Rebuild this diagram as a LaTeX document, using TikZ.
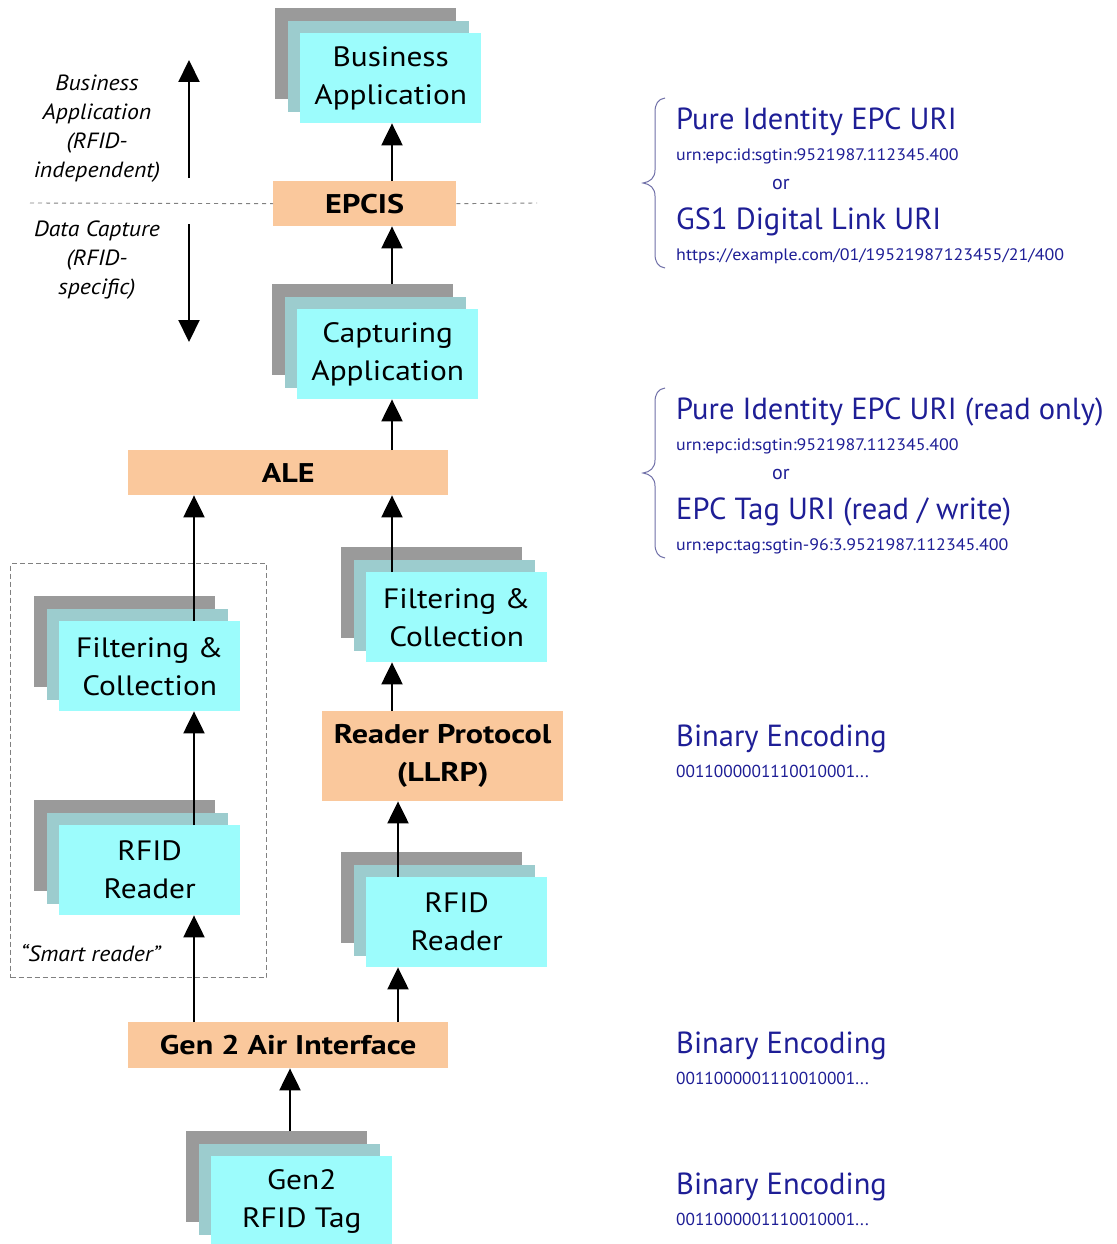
\documentclass[tikz,border=0pt]{standalone}
\usepackage{fontspec}
\setmainfont{PT Sans}
\newfontfamily\boxface{PT Sans}[FakeStretch=1.12]
\newfontfamily\bandface{PT Sans}[FakeStretch=1.19]
\newfontfamily\noteface{PT Sans}[FakeStretch=1.08]
\newfontfamily\smallface{PT Sans}[FakeStretch=1.08]
\usetikzlibrary{arrows.meta,calc}

\definecolor{tagcyan}{HTML}{9CFCFC}
\definecolor{tagmid}{HTML}{9CCCCE}
\definecolor{taggray}{HTML}{9A9A9A}
\definecolor{bandorange}{HTML}{FAC89C}
\definecolor{uriblue}{HTML}{1E1E96}
\definecolor{bracecol}{HTML}{7070A8}
\definecolor{dashgray}{HTML}{808080}

\newcommand\layerfont{\boxface\fontsize{28}{38}\selectfont}
\newcommand\bandfont{\bandface\fontsize{27}{38}\selectfont\bfseries}
\newcommand\notefont{\noteface\fontsize{22}{29}\selectfont\itshape}
\newcommand\urifont{\fontsize{30.5}{32}\selectfont}
\newcommand\smallurifont{\smallface\fontsize{16.6}{18}\selectfont}
\newcommand\bitsfont{\fontsize{17.3}{18}\selectfont}

\tikzset{
  layerback/.style={fill=taggray, minimum width=181pt, minimum height=91pt,
    anchor=north west, inner sep=0pt},
  layermid/.style={fill=tagmid, minimum width=181pt, minimum height=91pt,
    anchor=north west, inner sep=0pt},
  layerfront/.style={fill=tagcyan, minimum width=181pt, minimum height=90pt,
    anchor=north west, inner sep=0pt, align=center, font=\layerfont},
  band/.style={fill=bandorange, anchor=north west, inner sep=0pt,
    align=center, font=\bandfont},
  arr/.style={line width=2.2pt, -{Triangle[width=21pt,length=22pt]}},
  sep/.style={dashgray, line width=0.9pt, dash pattern=on 4pt off 4pt},
  smartbox/.style={draw=dashgray, line width=1pt, dash pattern=on 5pt off 3pt,
    minimum width=256pt, minimum height=414pt, inner sep=0pt, anchor=north west},
  note/.style={align=center, font=\notefont},
  uri/.style={anchor=base west, text=uriblue, font=\urifont, inner sep=0pt},
  smalluri/.style={anchor=base west, text=uriblue, font=\smallurifont, inner sep=0pt},
  bits/.style={anchor=base west, text=uriblue, font=\bitsfont, inner sep=0pt},
  orword/.style={anchor=base west, text=uriblue, font=\fontsize{20}{22}\selectfont, inner sep=0pt},
  bracestyle/.style={bracecol, line width=1pt},
}

% Three stacked layers: name, front-layer top-left x, y, label
\newcommand\stackedbox[4]{%
  \node[layerback] (#1-back) at (#2-25,#3-25) {};
  \node[layermid]  (#1-mid)  at (#2-12,#3-12) {};
  \node[layerfront] (#1)     at (#2,#3) {#4};
}

\begin{document}
\begin{tikzpicture}[x=1pt,y=-1pt]
\useasboundingbox[fill=white] (0,0) rectangle (1116,1244);

% column guides for the vertical connectors
\coordinate (colA) at (392,0);
\coordinate (colB) at (194,0);
\coordinate (colC) at (398,0);
\coordinate (colD) at (290,0);

% "Smart reader" enclosure
\node[smartbox] (smart) at (10,563) {};
\node[note, anchor=west] (smartlbl) at (17,953) {“Smart reader”};

% stacked application boxes
\stackedbox{bizapp}{300}{33}{Business\\Application}
\stackedbox{capapp}{297}{309}{Capturing\\Application}
\stackedbox{lfilter}{59}{621}{Filtering \&\\Collection}
\stackedbox{lreader}{59}{825}{RFID\\Reader}
\stackedbox{rfilter}{366}{572}{Filtering \&\\Collection}
\stackedbox{rreader}{366}{877}{RFID\\Reader}
\stackedbox{tag}{211}{1156}{Gen2\\RFID Tag}

% interface bands
\node[band, minimum width=183pt, minimum height=45pt] (epcis) at (273,181) {EPCIS};
\node[band, minimum width=320pt, minimum height=45pt] (ale) at (128,450) {ALE};
\node[band, minimum width=241pt, minimum height=90pt] (llrp) at (322,711) {Reader Protocol\\(LLRP)};
\node[band, minimum width=320pt, minimum height=46pt] (air) at (128,1022) {Gen 2 Air Interface};

% separator between business and capture layers
\coordinate (sepL) at (30,203);
\coordinate (sepR) at (537,203);
\draw[sep] (sepL) -- (epcis.west);
\draw[sep] (epcis.east) -- (sepR);

% layer annotations on the left
\node[note] (bizlbl) at (97,129) {Business\\Application\\(RFID-\\independent)};
\node[note] (caplbl) at (97,260) {Data Capture\\(RFID-\\specific)};
\coordinate (upS) at (189,178);
\coordinate (upE) at (189,60);
\coordinate (dnS) at (189,224);
\coordinate (dnE) at (189,342);
\draw[arr] (upS) -- (upE);
\draw[arr] (dnS) -- (dnE);

% data flow connectors
\draw[arr] (epcis.north -| colA) -- (bizapp.south -| colA);
\draw[arr] (capapp-back.north -| colA) -- (epcis.south -| colA);
\draw[arr] (ale.north -| colA) -- (capapp.south -| colA);
\draw[arr] (lfilter.north -| colB) -- (ale.south -| colB);
\draw[arr] (rfilter.north -| colA) -- (ale.south -| colA);
\draw[arr] (lreader.north -| colB) -- (lfilter.south -| colB);
\draw[arr] (air.north -| colB) -- (lreader.south -| colB);
\draw[arr] (llrp.north -| colA) -- (rfilter.south -| colA);
\draw[arr] (rreader.north -| colC) -- (llrp.south -| colC);
\draw[arr] (air.north -| colC) -- (rreader.south -| colC);
\draw[arr] (tag-back.north -| colD) -- (air.south -| colD);

% identifier formats at the business level
\draw[bracestyle] (665,98) .. controls (658,99) and (655,104) .. (655,112) -- (655,170)
  .. controls (655,178) and (650,182) .. (643,183)
  .. controls (650,184) and (655,188) .. (655,196) -- (655,254)
  .. controls (655,262) and (658,267) .. (665,268);
\node[uri] (pure1) at (676,129) {Pure Identity EPC URI};
\node[smalluri] (urn1) at (676,160) {urn:epc:id:sgtin:9521987.112345.400};
\node[orword] (or1) at (772,189) {or};
\node[uri] (gs1) at (676,229) {GS1 Digital Link URI};
\node[smalluri] (dl) at (676,260) {https://example.com/01/19521987123455/21/400};

% identifier formats at the capture level
\draw[bracestyle] (665,388) .. controls (658,389) and (655,394) .. (655,402) -- (655,460)
  .. controls (655,468) and (650,472) .. (643,473)
  .. controls (650,474) and (655,478) .. (655,486) -- (655,544)
  .. controls (655,552) and (658,557) .. (665,558);
\node[uri] (pure2) at (676,419) {Pure Identity EPC URI (read only)};
\node[smalluri] (urn2) at (676,450) {urn:epc:id:sgtin:9521987.112345.400};
\node[orword] (or2) at (772,479) {or};
\node[uri] (taguri) at (676,519) {EPC Tag URI (read / write)};
\node[smalluri] (urn3) at (676,550) {urn:epc:tag:sgtin-96:3.9521987.112345.400};

% binary encodings
\node[uri] (bin1) at (676,746) {Binary Encoding};
\node[bits] (bits1) at (676,777) {0011000001110010001...};
\node[uri] (bin2) at (676,1053) {Binary Encoding};
\node[bits] (bits2) at (676,1084) {0011000001110010001...};
\node[uri] (bin3) at (676,1194) {Binary Encoding};
\node[bits] (bits3) at (676,1225) {0011000001110010001...};
\end{tikzpicture}
\end{document}
